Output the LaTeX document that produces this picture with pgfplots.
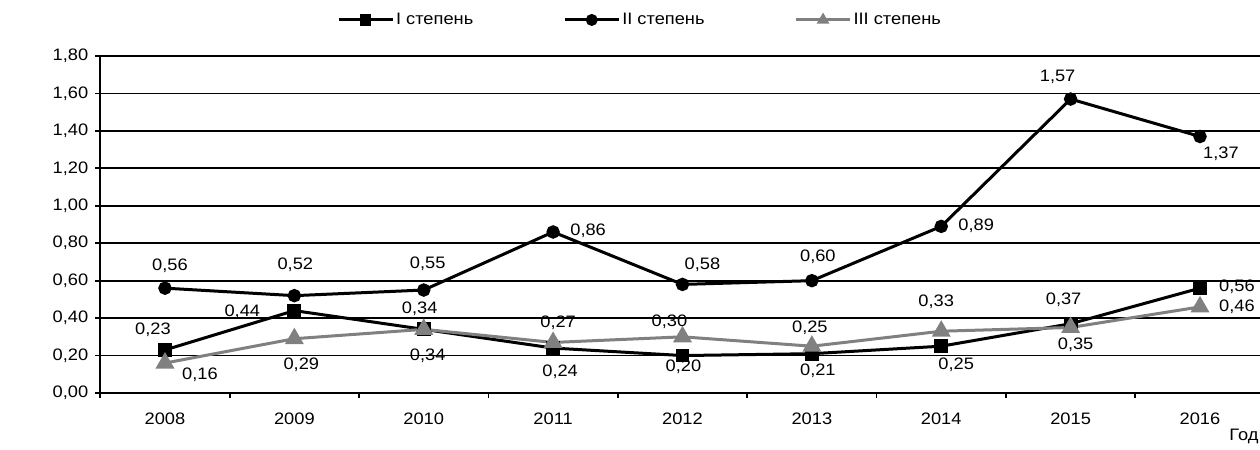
\documentclass[border=0pt]{standalone}
\usepackage{pgfplots}
\pgfplotsset{compat=1.18}
\usepackage{fontspec}
\setmainfont[FakeStretch=1.1]{Liberation Sans}
\definecolor{seriesgray}{RGB}{128,128,128}

% value label: x, y, shift right (px), shift up (px), text
\newcommand\lbl[5]{\node[font=\fontsize{8.3}{10}\selectfont, inner sep=0pt,
  xshift=#3*0.5pt, yshift=#4*0.5pt] at (axis cs:#1,#2) {#5};}

\begin{document}
\begin{tikzpicture}
\path[use as bounding box] (0,0) rectangle (630pt,-225pt);
\clip (0,0) rectangle (630pt,-225pt);
\begin{axis}[
  at={(50.15pt,-196.5pt)}, anchor=south west,
  scale only axis, width=582.2pt, height=168.5pt,
  xmin=-0.5, xmax=8.5, ymin=0, ymax=1.8,
  axis x line*=bottom, axis y line*=left,
  axis line style={line width=1pt, -},
  xtick={-0.5,0.5,...,8.5},
  xticklabels={2008,2009,2010,2011,2012,2013,2014,2015,2016},
  x tick label as interval,
  ytick={0,0.2,...,1.8},
  tick align=outside, major tick length=2.5pt,
  tick style={line width=0.9pt, black},
  ymajorgrids, grid style={line width=0.9pt, black},
  /pgf/number format/.cd, use comma, fixed, fixed zerofill, precision=2,
  assume math mode=true,
  /pgfplots/.cd,
  tick label style={font=\fontsize{8.3}{10}\selectfont},
  xticklabel style={yshift=-4pt},
  xlabel={Год},
  xlabel style={at={(rel axis cs:0.995,-0.13)}, anchor=east, inner sep=0pt,
    font=\fontsize{8.3}{10}\selectfont},
  legend columns=3,
  legend style={at={(0.4635,1.107)}, anchor=center, draw=none, fill=none,
    font=\fontsize{8.3}{10}\selectfont, nodes={inner xsep=1pt},
    /tikz/every even column/.append style={column sep=44pt}},
  legend image code/.code={
    \draw[mark repeat=2, mark phase=2, mark size=2.2pt]
      plot coordinates {(0pt,0pt)(13.5pt,0pt)(27pt,0pt)};},
]
\addplot[black, line width=1.5pt, mark=square*, mark size=2.7pt, mark options={solid}]
  coordinates {(0,0.23)(1,0.44)(2,0.34)(3,0.24)(4,0.20)(5,0.21)(6,0.25)(7,0.37)(8,0.56)};
\addlegendentry{I степень}
\addplot[black, line width=1.5pt, mark=*, mark size=2.6pt]
  coordinates {(0,0.56)(1,0.52)(2,0.55)(3,0.86)(4,0.58)(5,0.60)(6,0.89)(7,1.57)(8,1.37)};
\addlegendentry{II степень}
\addplot[seriesgray, line width=1.5pt, mark=triangle*, mark size=4pt]
  coordinates {(0,0.16)(1,0.29)(2,0.34)(3,0.27)(4,0.30)(5,0.25)(6,0.33)(7,0.35)(8,0.46)};
\addlegendentry{III степень}

% I степень
\lbl{0}{0.23}{-12}{20}{0,23}
\lbl{1}{0.44}{-52}{-1}{0,44}
\lbl{2}{0.34}{-4}{21}{0,34}
\lbl{3}{0.24}{7}{-24}{0,24}
\lbl{4}{0.20}{1}{-11}{0,20}
\lbl{5}{0.21}{6}{-17}{0,21}
\lbl{6}{0.25}{15}{-19}{0,25}
\lbl{7}{0.37}{-7}{24}{0,37}
\lbl{8}{0.56}{37}{1}{0,56}
% II степень
\lbl{0}{0.56}{5}{22}{0,56}
\lbl{1}{0.52}{1}{31}{0,52}
\lbl{2}{0.55}{4}{26}{0,55}
\lbl{3}{0.86}{35}{1}{0,86}
\lbl{4}{0.58}{20}{20}{0,58}
\lbl{5}{0.60}{6}{24}{0,60}
\lbl{6}{0.89}{35}{1}{0,89}
\lbl{7}{1.57}{-13}{22}{1,57}
\lbl{8}{1.37}{21}{-17}{1,37}
% III степень
\lbl{0}{0.16}{35}{-12}{0,16}
\lbl{1}{0.29}{7}{-26}{0,29}
\lbl{2}{0.34}{4}{-26}{0,34}
\lbl{3}{0.27}{5}{20}{0,27}
\lbl{4}{0.30}{-13}{15}{0,30}
\lbl{5}{0.25}{-2}{18}{0,25}
\lbl{6}{0.33}{-5}{29}{0,33}
\lbl{7}{0.35}{5}{-17}{0,35}
\lbl{8}{0.46}{37}{0}{0,46}

\node[rotate=90, font=\fontsize{7.2}{8.6}\selectfont] at (rel axis cs:-0.0688,0.638) {Заболеваемость на 1000 детей};
\end{axis}
\end{tikzpicture}
\end{document}
